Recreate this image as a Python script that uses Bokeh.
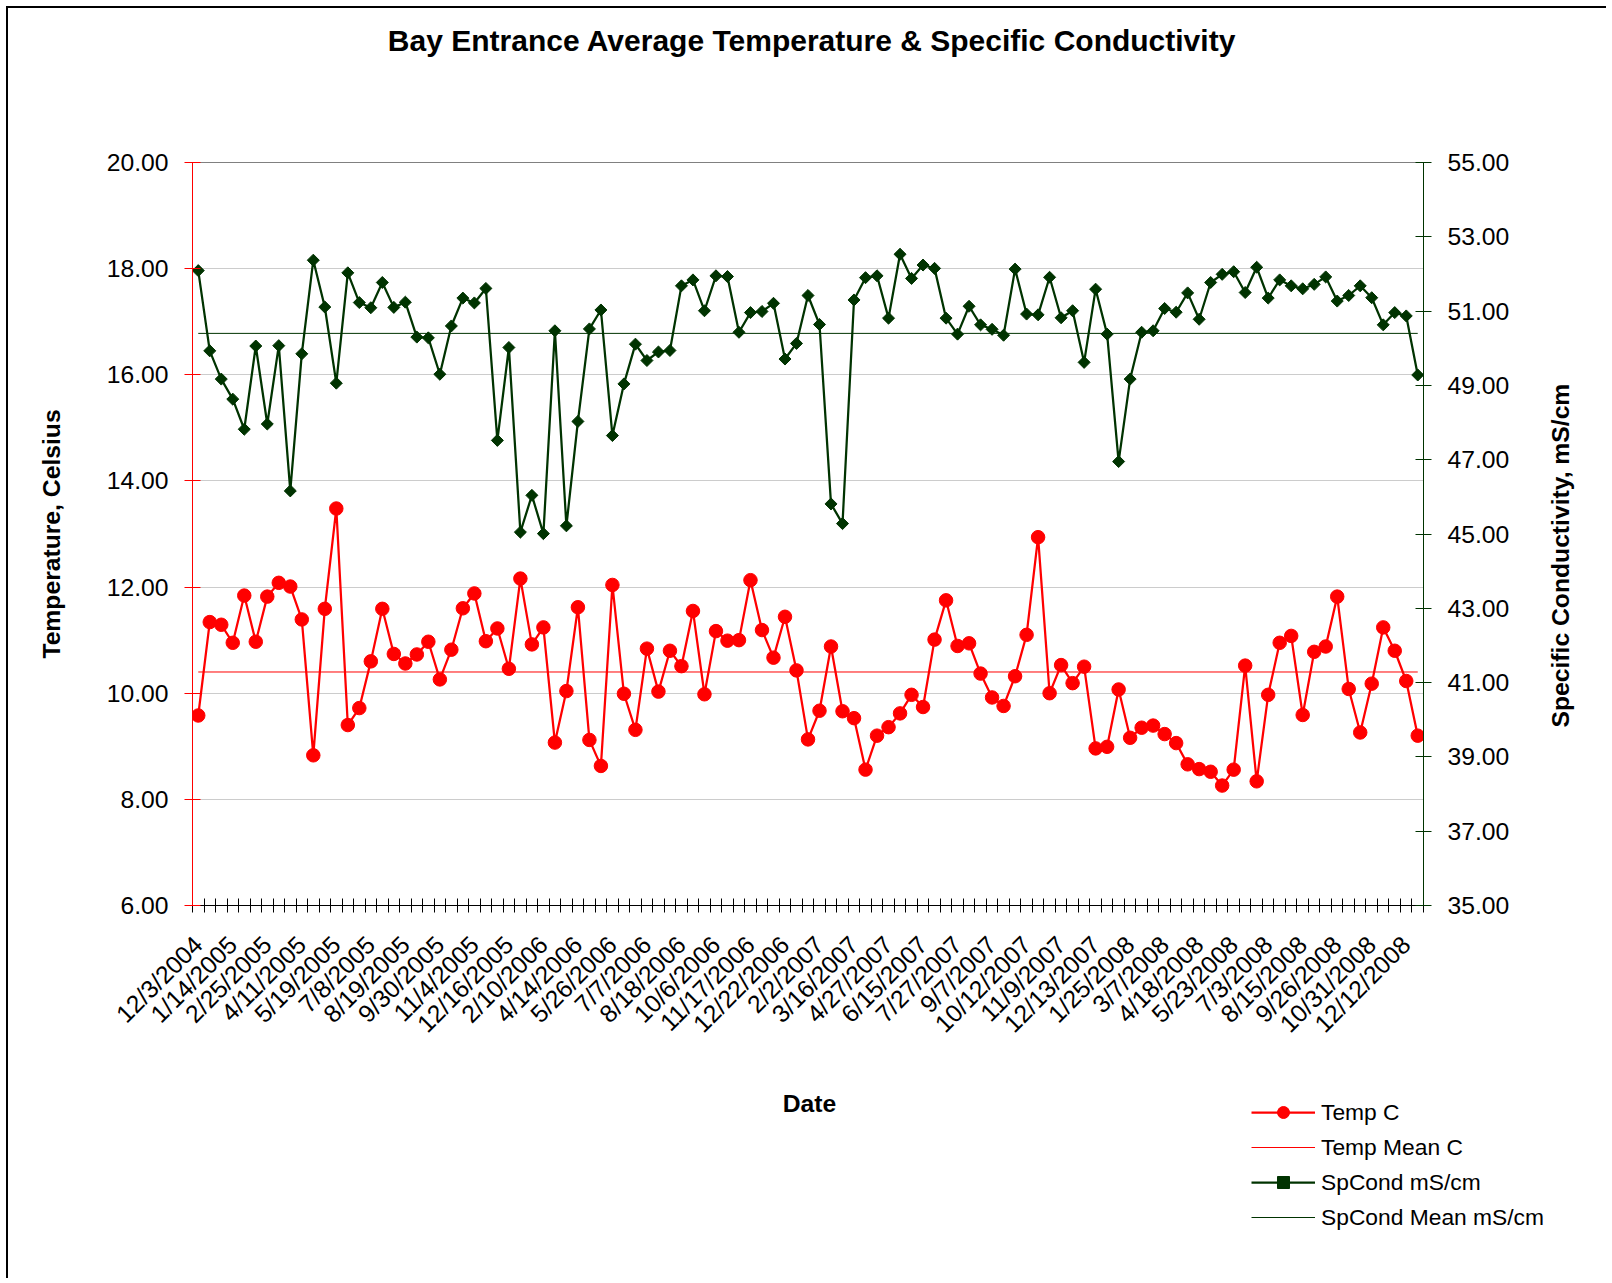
import math
from bokeh.plotting import figure
from bokeh.layouts import column
from bokeh.models import (Range1d, LinearAxis, FixedTicker, PrintfTickFormatter,
                          Legend, LegendItem, Grid, Label)
from bokeh.embed import file_html
from bokeh.resources import INLINE

# ---------------- data ----------------
tick_dates = ["12/3/2004", "1/14/2005", "2/25/2005", "4/11/2005", "5/19/2005", "7/8/2005",
              "8/19/2005", "9/30/2005", "11/4/2005", "12/16/2005", "2/10/2006", "4/14/2006",
              "5/26/2006", "7/7/2006", "8/18/2006", "10/6/2006", "11/17/2006", "12/22/2006",
              "2/2/2007", "3/16/2007", "4/27/2007", "6/15/2007", "7/27/2007", "9/7/2007",
              "10/12/2007", "11/9/2007", "12/13/2007", "1/25/2008", "3/7/2008", "4/18/2008",
              "5/23/2008", "7/3/2008", "8/15/2008", "9/26/2008", "10/31/2008", "12/12/2008"]
label_step = 3

temp_c = [9.58, 11.34, 11.29, 10.95, 11.84, 10.97, 11.82, 12.08, 12.01, 11.39,
          8.83, 11.59, 13.48, 9.40, 9.72, 10.60, 11.59, 10.74, 10.56, 10.73,
          10.97, 10.26, 10.82, 11.60, 11.88, 10.98, 11.22, 10.46, 12.16, 10.92,
          11.24, 9.07, 10.04, 11.62, 9.12, 8.63, 12.04, 9.99, 9.31, 10.84,
          10.03, 10.80, 10.51, 11.55, 9.98, 11.17, 10.99, 11.00, 12.13, 11.19,
          10.67, 11.44, 10.43, 9.13, 9.67, 10.88, 9.66, 9.53, 8.56, 9.20,
          9.36, 9.62, 9.97, 9.74, 11.01, 11.75, 10.89, 10.94, 10.37, 9.92,
          9.76, 10.32, 11.10, 12.94, 10.00, 10.53, 10.19, 10.50, 8.96, 8.99,
          10.07, 9.16, 9.35, 9.39, 9.23, 9.06, 8.66, 8.57, 8.52, 8.26,
          8.56, 10.52, 8.34, 9.97, 10.95, 11.08, 9.59, 10.78, 10.88, 11.82,
          10.08, 9.26, 10.18, 11.24, 10.80, 10.23, 9.20]

spcond = [52.09, 49.93, 49.17, 48.63, 47.82, 50.06, 47.96, 50.07, 46.16, 49.85,
          52.37, 51.11, 49.06, 52.03, 51.23, 51.09, 51.77, 51.10, 51.24, 50.30,
          50.28, 49.30, 50.60, 51.35, 51.22, 51.61, 47.52, 50.02, 45.05, 46.04,
          45.01, 50.47, 45.22, 48.03, 50.52, 51.03, 47.65, 49.04, 50.11, 49.67,
          49.90, 49.94, 51.68, 51.84, 51.01, 51.95, 51.93, 50.43, 50.96, 50.99,
          51.21, 49.71, 50.13, 51.42, 50.64, 45.81, 45.28, 51.30, 51.90, 51.95,
          50.81, 52.53, 51.88, 52.24, 52.15, 50.81, 50.38, 51.13, 50.63, 50.51,
          50.35, 52.13, 50.92, 50.90, 51.91, 50.82, 51.01, 49.62, 51.59, 50.38,
          46.95, 49.17, 50.43, 50.47, 51.07, 50.97, 51.49, 50.78, 51.77, 51.99,
          52.06, 51.50, 52.18, 51.35, 51.84, 51.68, 51.60, 51.72, 51.92, 51.27,
          51.42, 51.68, 51.36, 50.63, 50.96, 50.87, 49.28]

temp_mean_c = 10.40
spcond_mean = 50.40

temp_ticks = [6, 8, 10, 12, 14, 16, 18, 20]
spcond_ticks = [35, 37, 39, 41, 43, 45, 47, 49, 51, 53, 55]

title_text = "Bay Entrance Average Temperature & Specific Conductivity"
left_title = "Temperature, Celsius"
right_title = "Specific Conductivity, mS/cm"
x_title = "Date"
legend_labels = ["Temp C", "Temp Mean C", "SpCond mS/cm", "SpCond Mean mS/cm"]

# ---------------- styling ----------------
FONT = "Liberation Sans"
RED = "#FF0000"
GREEN = "#003300"
TICK_FS = "24.7px"
AXT_FS = "24.7px"
TITLE_AT = 53.36           # horizontal centre of the title, in category units
RIGHT_TITLE_START = 39.79  # where the (bottom-to-top) right title starts, in mS/cm units
MAIN_H = 1060              # chart part; the strip below holds the x title and the legend
STRIP_H = 210
PAGE_W = 1600

n = len(temp_c)
xs = list(range(n))

fig = figure(width=PAGE_W, height=MAIN_H, output_backend="svg", toolbar_location=None,
             x_range=Range1d(-0.5, n - 0.5), y_range=Range1d(temp_ticks[0], temp_ticks[-1]),
             x_axis_type=None, y_axis_type=None,
             min_border_left=184, min_border_right=185, min_border_top=154,
             min_border_bottom=MAIN_H - 154 - 743)
fig.frame_align = False
fig.margin = (8, 0, 0, 8)
fig.styles = {"box-shadow": "-2px -2px 0 0 #000000, -2px 0 0 0 #000000"}
fig.extra_y_ranges = {"sp": Range1d(spcond_ticks[0], spcond_ticks[-1])}
fig.background_fill_color = "white"
fig.border_fill_color = "white"
fig.outline_line_color = "#808080"
fig.outline_line_width = 1
fig.title.text = ""

# grid
yticker = FixedTicker(ticks=temp_ticks)
fig.add_layout(Grid(dimension=1, ticker=yticker, grid_line_color="#CCCCCC", grid_line_width=1))


def text_axis(ticks, labels, fs, range_name="default"):
    ax = LinearAxis(y_range_name=range_name, ticker=FixedTicker(ticks=ticks),
                    major_label_overrides=dict(zip(ticks, labels)))
    ax.major_label_text_font = FONT
    ax.major_label_text_font_size = fs
    ax.major_label_text_font_style = "bold"
    ax.major_label_text_color = "black"
    ax.major_tick_in = 0
    ax.major_tick_out = 0
    ax.axis_line_color = None
    ax.major_tick_line_color = None
    ax.minor_tick_line_color = None
    return ax


# title (a single label on an axis above the plot)
tax = text_axis([TITLE_AT], [title_text], "30px")
tax.major_label_standoff = 106
fig.add_layout(tax, "above")

# x axis (categories; category boundaries as minor ticks)
major_pos = list(range(0, n, label_step))[:len(tick_dates)]
xax = LinearAxis(ticker=FixedTicker(ticks=major_pos, minor_ticks=[i - 0.5 for i in range(n + 1)]),
                 major_label_overrides={pos: lab for pos, lab in zip(major_pos, tick_dates)})
xax.major_label_orientation = math.pi / 4
xax.major_label_text_font = FONT
xax.major_label_text_font_size = TICK_FS
xax.major_label_text_color = "black"
xax.major_label_standoff = 28
xax.major_tick_in = 0
xax.major_tick_out = 0
xax.minor_tick_in = 7
xax.minor_tick_out = 7
xax.minor_tick_line_color = "black"
xax.axis_line_color = "black"
xax.axis_line_width = 1
fig.add_layout(xax, "below")

# left axis
yax = LinearAxis(ticker=yticker, formatter=PrintfTickFormatter(format="%.2f"))
yax.major_label_text_font = FONT
yax.major_label_text_font_size = TICK_FS
yax.major_label_text_color = "black"
yax.major_label_standoff = 16
yax.major_tick_in = 8
yax.major_tick_out = 8
yax.minor_tick_line_color = None
yax.major_tick_line_color = RED
yax.axis_line_color = RED
yax.axis_label = left_title
yax.axis_label_text_font = FONT
yax.axis_label_text_font_size = AXT_FS
yax.axis_label_text_font_style = "bold"
yax.axis_label_text_color = "black"
yax.axis_label_standoff = 39
fig.add_layout(yax, "left")

# right axis
rax = LinearAxis(y_range_name="sp", ticker=FixedTicker(ticks=spcond_ticks),
                 formatter=PrintfTickFormatter(format="%.2f"))
rax.major_label_text_font = FONT
rax.major_label_text_font_size = TICK_FS
rax.major_label_text_color = "black"
rax.major_label_standoff = 16
rax.major_tick_in = 8
rax.major_tick_out = 8
rax.minor_tick_line_color = None
rax.major_tick_line_color = GREEN
rax.axis_line_color = GREEN
fig.add_layout(rax, "right")

# right axis title, reading bottom-to-top
rtax = text_axis([RIGHT_TITLE_START], [right_title], AXT_FS, range_name="sp")
rtax.major_label_orientation = math.pi / 2
rtax.major_label_standoff = 48
fig.add_layout(rtax, "right")


def draw_series(f, yname_t="default", yname_s="sp"):
    a = f.line(xs, temp_c, line_color=RED, line_width=2.25, y_range_name=yname_t)
    b = f.scatter(xs, temp_c, marker="circle", size=13.5, fill_color=RED, line_color=RED,
                  y_range_name=yname_t)
    c = f.line([xs[0], xs[-1]], [temp_mean_c, temp_mean_c], line_color=RED, line_width=1,
               y_range_name=yname_t)
    d = f.line(xs, spcond, line_color=GREEN, line_width=2.25, y_range_name=yname_s)
    e = f.scatter(xs, spcond, marker="square", angle=math.pi / 4, size=8.5,
                  fill_color=GREEN, line_color=GREEN, y_range_name=yname_s)
    g = f.line([xs[0], xs[-1]], [spcond_mean, spcond_mean], line_color=GREEN, line_width=1,
               y_range_name=yname_s)
    return a, b, c, d, e, g


draw_series(fig)

# ---------------- bottom strip: x-axis title and legend ----------------
strip = figure(width=PAGE_W, height=STRIP_H, output_backend="svg", toolbar_location=None,
               x_range=Range1d(0, PAGE_W), y_range=Range1d(0, STRIP_H),
               x_axis_type=None, y_axis_type=None, min_border=0)
# the series are repeated here only to feed the legend; this range puts them out of view
strip.extra_y_ranges = {"off": Range1d(-2000, -1999)}
strip.frame_align = False
strip.margin = (0, 0, 0, 8)
strip.styles = {"box-shadow": "-2px 0 0 0 #000000"}
strip.outline_line_color = None
strip.background_fill_color = "white"
strip.border_fill_color = "white"
strip.title.text = ""

strip.add_layout(Label(x=801, y=175, x_units="screen", y_units="screen", text=x_title,
                       text_font=FONT, text_font_size=AXT_FS, text_font_style="bold",
                       text_color="black", text_align="center", text_baseline="alphabetic"))

r1, r1m, r2, r3, r3m, r4 = draw_series(strip, "off", "off")
legend = Legend(items=[LegendItem(label=legend_labels[0], renderers=[r1, r1m]),
                       LegendItem(label=legend_labels[1], renderers=[r2]),
                       LegendItem(label=legend_labels[2], renderers=[r3, r3m]),
                       LegendItem(label=legend_labels[3], renderers=[r4])],
                location=(1243, 46))
legend.label_text_font = FONT
legend.label_text_font_size = "22.8px"
legend.label_text_color = "black"
legend.glyph_width = 64
legend.glyph_height = 30
legend.spacing = 5
legend.padding = 0
legend.margin = 0
legend.label_standoff = 6
legend.border_line_alpha = 0
legend.background_fill_alpha = 0
strip.add_layout(legend)

p = column(fig, strip, spacing=0)

open("out.html", "w").write(file_html(p, INLINE))
